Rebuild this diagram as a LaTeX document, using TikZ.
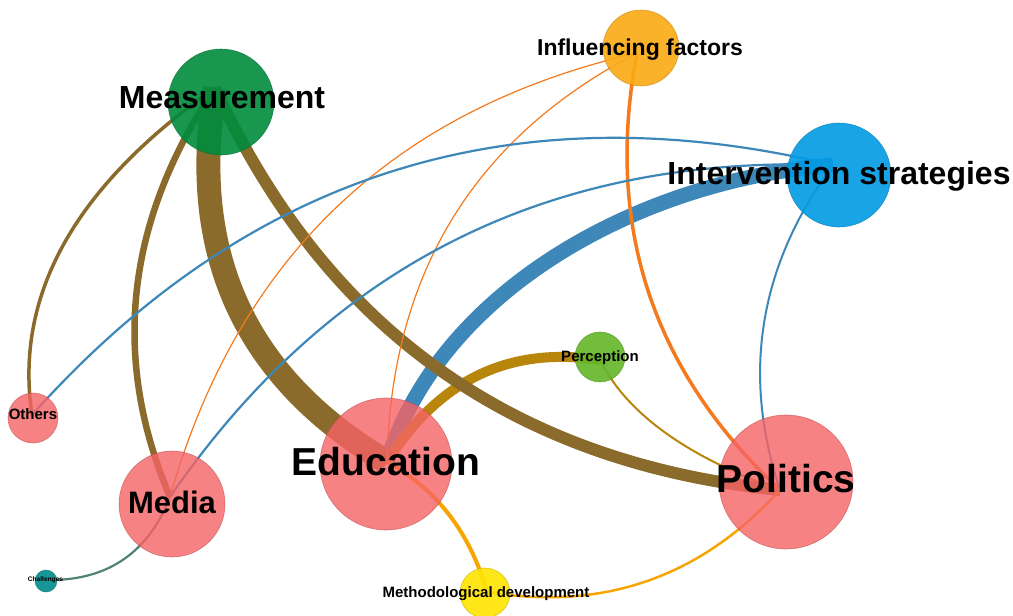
\documentclass[tikz,border=0pt]{standalone}
\usepackage{fontspec}
\setmainfont{Liberation Sans}
\definecolor{brownE}{RGB}{139,107,43}
\definecolor{goldE}{RGB}{184,134,11}
\definecolor{orangeE}{RGB}{245,122,30}
\definecolor{blueE}{RGB}{62,135,185}
\definecolor{ambE}{RGB}{247,165,0}
\definecolor{tealE}{RGB}{80,130,118}
\definecolor{measC}{RGB}{0,140,60}
\definecolor{pinkC}{RGB}{246,99,101}
\definecolor{inflC}{RGB}{251,170,20}
\definecolor{intC}{RGB}{0,155,228}
\definecolor{percC}{RGB}{100,182,40}
\definecolor{metC}{RGB}{255,228,0}
\definecolor{chalC}{RGB}{0,140,140}
\tikzset{
  bub/.style 2 args={circle, inner sep=0pt, minimum size=#1, fill=#2, draw=#2!75!black,
    line width=0.6pt, fill opacity=0.8, draw opacity=0.6},
  strong/.style={fill opacity=0.9},
  lab/.style={anchor=base, inner sep=0pt, text=black, font=\bfseries\fontsize{#1}{#1}\selectfont},
  ed/.style 2 args={draw=#1, line width=#2, line cap=butt},
}
\begin{document}
\begin{tikzpicture}[x=1pt,y=-1pt]
\useasboundingbox (0,0) rectangle (1013,616);
\fill[white] (0,0) rectangle (1013,616);
% hubs where connectors meet
\coordinate (hMeas) at (215,88);
\coordinate (hInfl) at (637,53);
\coordinate (hInt) at (833,165);
\coordinate (hPerc) at (600,360);
\coordinate (hOth) at (32,415);
\coordinate (hMed) at (170,497);
\coordinate (hEdu) at (387,462);
\coordinate (hPol) at (780,490);
\coordinate (hChal) at (52,580);
\coordinate (hMet) at (487,592);
% thick connectors
\draw[ed={blueE}{15}] (hEdu) .. controls (440,290) and (640,180) .. (hInt);
\draw[ed={goldE}{10}] (hEdu) .. controls (439,379.3) and (510,346) .. (hPerc);
\draw[ed={brownE}{24}] (hMeas) .. controls (187.7,254) and (245,378) .. (hEdu);
\draw[ed={brownE}{12}] (hMeas) .. controls (325.7,329.3) and (514,463.3) .. (hPol);
\draw[ed={brownE}{6.5}] (hMeas) .. controls (125.7,221.3) and (110.7,357.7) .. (hMed);
\draw[ed={brownE}{3.5}] (hMeas) .. controls (75,186) and (14,295) .. (hOth);
% thin connectors
\draw[ed={goldE}{2}] (hPerc) .. controls (626.7,413.3) and (686.7,456.7) .. (hPol);
\draw[ed={orangeE}{3.5}] (hInfl) .. controls (604.3,225) and (652,370.7) .. (hPol);
\draw[ed={orangeE}{1.2}] (hInfl) .. controls (393.7,109) and (238,257) .. (hMed);
\draw[ed={orangeE}{1.2}] (hInfl) .. controls (474.3,137.7) and (391,273.3) .. (hEdu);
\draw[ed={blueE}{2.2}] (hInt) .. controls (515.7,89) and (248.7,172.3) .. (hOth);
\draw[ed={blueE}{2.2}] (hInt) .. controls (550.3,154.3) and (329.3,265) .. (hMed);
\draw[ed={blueE}{2}] (hInt) .. controls (759,265.7) and (741.3,374) .. (hPol);
\draw[ed={ambE}{4}] (hEdu) .. controls (437,489.3) and (470.3,533.3) .. (hMet);
\draw[ed={ambE}{2.5}] (hMet) .. controls (603,611.3) and (700.7,577.3) .. (hPol);
\draw[ed={tealE}{2.2}] (hChal) .. controls (109.3,579.3) and (148.7,551.7) .. (hMed);
% nodes
\node[bub={106pt}{measC}, strong] (meas) at (221,102) {};
\node[bub={76pt}{inflC}, strong] (infl) at (641,48) {};
\node[bub={104pt}{intC}, strong] (int) at (839,175) {};
\node[bub={50pt}{percC}, strong] (perc) at (600,357) {};
\node[bub={50pt}{pinkC}] (oth) at (33,418) {};
\node[bub={106pt}{pinkC}] (med) at (172,504) {};
\node[bub={132pt}{pinkC}] (edu) at (386,464) {};
\node[bub={134pt}{pinkC}] (pol) at (786,482) {};
\node[bub={22pt}{chalC}, strong] (chal) at (46,581) {};
\node[bub={50pt}{metC}, strong] (met) at (485,593) {};
% labels
\node[lab=32] (lmeas) at (222,108.5) {Measurement};
\node[lab=23] (linfl) at (640,55) {Influencing factors};
\node[lab=32] (lint) at (839,184.5) {Intervention strategies};
\node[lab=39] (ledu) at (386,475) {Education};
\node[lab=39] (lpol) at (786,492) {Politics};
\node[lab=31] (lmed) at (172,513) {Media};
\node[lab=15] (lperc) at (600,361.4) {Perception};
\node[lab=15] (loth) at (33,419.4) {Others};
\node[lab=15] (lmet) at (486,597.4) {Methodological development};
\node[lab=6.6] (lchal) at (45.5,581.4) {Challenges};
\end{tikzpicture}
\end{document}
